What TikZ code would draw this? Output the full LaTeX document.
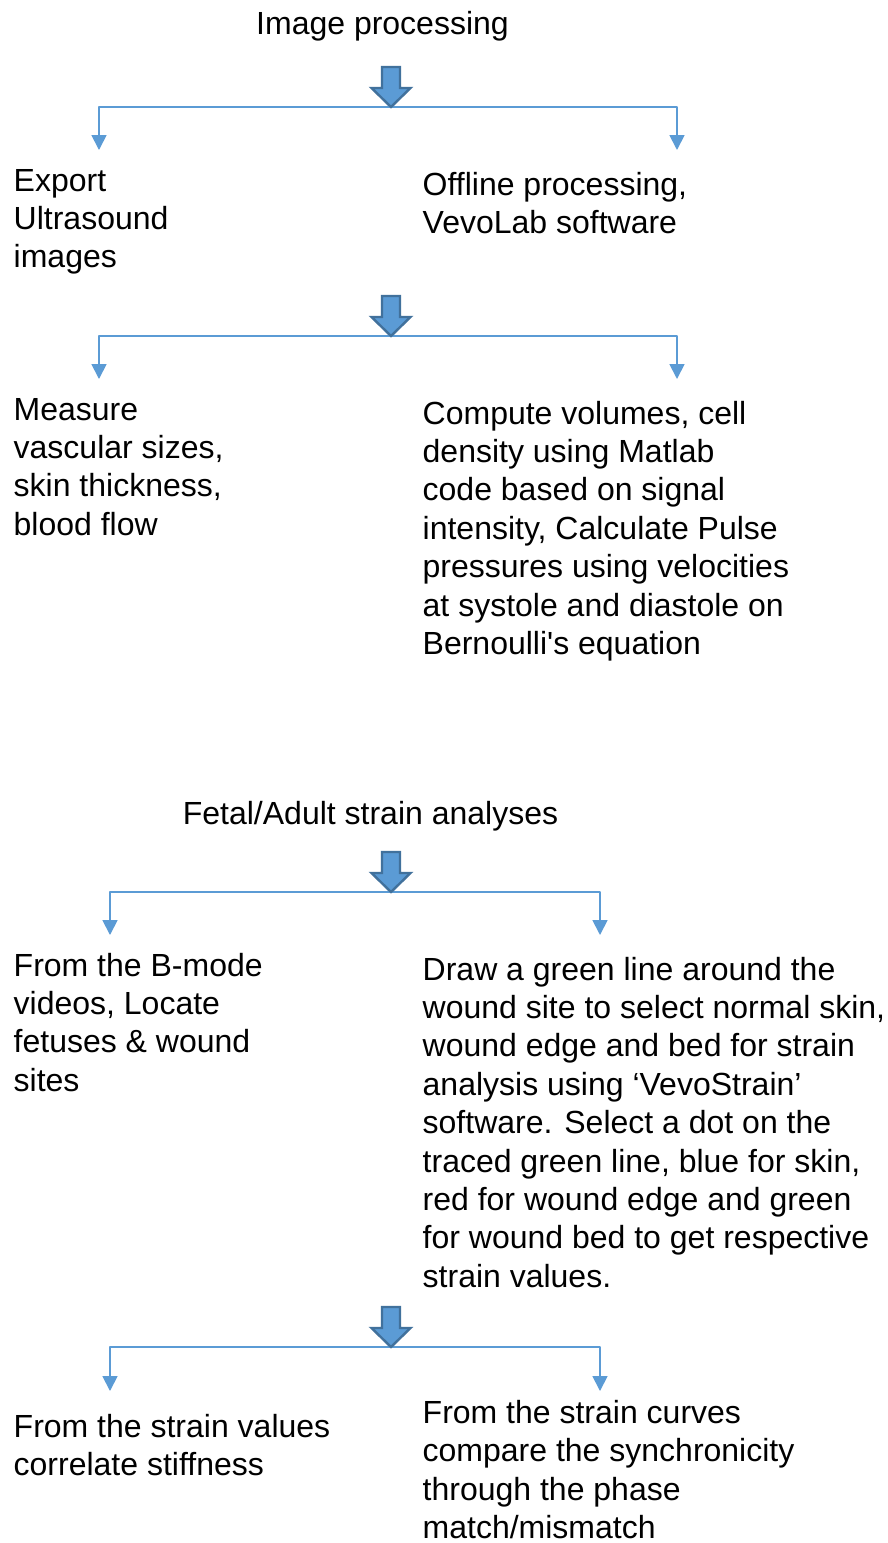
\documentclass[tikz,border=0pt]{standalone}
\usepackage{fontspec}
\setmainfont{Liberation Sans}
\usepackage{tikz}
\usetikzlibrary{arrows.meta,positioning}
\definecolor{flowblue}{HTML}{5B9BD5}
\definecolor{flowedge}{HTML}{41719C}
\tikzset{
every picture/.style={line cap=round,line join=round},
flow text/.style={
  font=\fontsize{32}{38.4}\selectfont,
  align=left,
  inner sep=0pt,
  anchor=base west
},
flow title/.style={
  font=\fontsize{32}{38.4}\selectfont,
  inner sep=0pt,
  anchor=base
},
branch/.style={
  draw=flowblue,
  line width=1.8pt,
  line cap=butt,
  -{Triangle[length=15pt,width=15pt]}
},
down block/.pic={
  \filldraw[fill=flowblue,draw=flowedge,line width=2.4pt,line join=miter]
    (-9,-40) -- (9,-40) -- (9,-19) -- (19.5,-19) -- (0,0)
    -- (-19.5,-19) -- (-9,-19) -- cycle;
}
}
\begin{document}
\begin{tikzpicture}[x=1pt,y=-1pt]
\useasboundingbox[fill=white] (0,0) rectangle (888,1543);
% image processing (text nodes sit on the baseline of their last line)
\node[flow title] (imgproc) at (382.5,34) {Image processing};
\coordinate (split1) at (391,107);
\coordinate (drop1l) at (99,150);
\coordinate (drop1r) at (677,150);
\draw[branch] (split1) -| (drop1l);
\draw[branch] (split1) -| (drop1r);
\pic at (split1) {down block};
\node[flow text] (export) at (13.5,267.8) {Export\\Ultrasound\\images};
\node[flow text] (offline) at (422.5,233.4) {Offline processing,\\VevoLab software};
% measurements
\coordinate (split2) at (391,336);
\coordinate (drop2l) at (99,379);
\coordinate (drop2r) at (677,379);
\draw[branch] (split2) -| (drop2l);
\draw[branch] (split2) -| (drop2r);
\pic at (split2) {down block};
\node[flow text] (measure) at (13.5,535.2) {Measure\\vascular sizes,\\skin thickness,\\blood flow};
\node[flow text] (compute) at (422.5,654.4) {Compute volumes, cell\\density using Matlab\\code based on signal\\intensity, Calculate Pulse\\pressures using velocities\\at systole and diastole on\\Bernoulli\textquotesingle s equation};
% strain analyses
\node[flow title] (strain) at (370.5,824) {Fetal/Adult strain analyses};
\coordinate (split3) at (391,892);
\coordinate (drop3l) at (110,935);
\coordinate (drop3r) at (600,935);
\draw[branch] (split3) -| (drop3l);
\draw[branch] (split3) -| (drop3r);
\pic at (split3) {down block};
\node[flow text] (locate) at (13.5,1091.2) {From the B-mode\\videos, Locate\\fetuses \& wound\\sites};
\node[flow text] (trace) at (422.5,1287.2) {Draw a green line around the\\wound site to select normal skin,\\wound edge and bed for strain\\analysis using ‘VevoStrain’\\software. Select a dot on the\\traced green line, blue for skin,\\red for wound edge and green\\for wound bed to get respective\\strain values.};
% results
\coordinate (split4) at (391,1347);
\coordinate (drop4l) at (110,1391);
\coordinate (drop4r) at (600,1391);
\draw[branch] (split4) -| (drop4l);
\draw[branch] (split4) -| (drop4r);
\pic at (split4) {down block};
\node[flow text] (stiff) at (13.5,1475.4) {From the strain values\\correlate stiffness};
\node[flow text] (phase) at (422.5,1538.5) {From the strain curves\\compare the synchronicity\\through the phase\\match/mismatch};
\end{tikzpicture}
\end{document}
